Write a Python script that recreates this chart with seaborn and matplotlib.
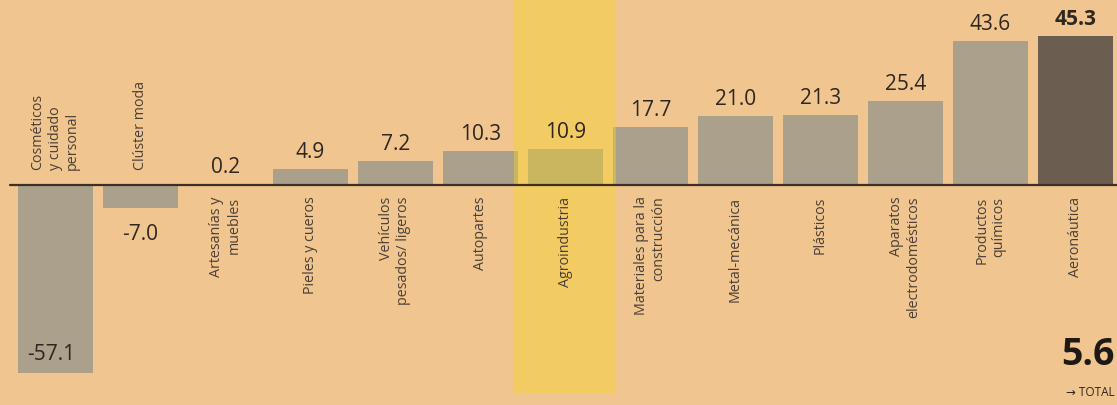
import matplotlib
matplotlib.use("Agg")
import matplotlib.pyplot as plt
import seaborn as sns
import pandas as pd

# === datos ===
categorias = [
    "Cosméticos\ny cuidado\npersonal", "Clúster moda", "Artesanías y\nmuebles",
    "Pieles y cueros", "Vehículos\npesados/ ligeros", "Autopartes", "Agroindustria",
    "Materiales para la\nconstrucción", "Metal-mecánica", "Plásticos",
    "Aparatos\nelectrodomésticos", "Productos\nquímicos", "Aeronáutica",
]
valores = [-57.1, -7.0, 0.2, 4.9, 7.2, 10.3, 10.9, 17.7, 21.0, 21.3, 25.4, 43.6, 45.3]
etiquetas = ["-57.1", "-7.0", "0.2", "4.9", "7.2", "10.3", "10.9", "17.7",
             "21.0", "21.3", "25.4", "43.6", "45.3"]
total = "5.6"

fondo = "#f0c58f"
gris = "#aba08b"
oscuro = "#6b5d4f"
texto = "#2e2620"

df = pd.DataFrame({"cat": categorias, "val": valores})
colores = [gris] * (len(valores) - 1) + [oscuro]

sns.set_theme(style="white")
plt.rcParams["font.family"] = ["Open Sans", "DejaVu Sans"]

fig = plt.figure(figsize=(11.17, 4.05), dpi=100, facecolor=fondo)
ax = fig.add_axes([0, 0, 1, 1], facecolor=fondo)

sns.barplot(data=df, x="cat", y="val", hue="cat", palette=colores, legend=False,
            width=0.88, saturation=1, linewidth=0, ax=ax, zorder=2)

ax.set_xlim(-0.65, 12.49)
ax.set_ylim(-66.7, 56.1)
ax.axis("off")

# linea de cero
ax.plot([-0.53, 12.49], [0, 0], color="#3a3028", lw=1.6, zorder=4)

# marca amarilla sobre Agroindustria
ax.fill_between([5.4, 6.6], [-63, -63], [56.1, 56.1], color="#f5d524",
                alpha=0.42, lw=0, zorder=3)

for i, (c, v, e) in enumerate(zip(categorias, valores, etiquetas)):
    if v < 0:
        ax.text(i, 4.5, c, rotation=90, ha="center", va="bottom",
                multialignment="left", fontsize=10.3, color="#4a3f36", zorder=5)
        if v < -30:
            ax.text(i - 0.05, v + 2.4, e, ha="center", va="bottom",
                    fontsize=15, color=texto, zorder=5)
        else:
            ax.text(i, v - 4.8, e, ha="center", va="top",
                    fontsize=15, color=texto, zorder=5)
    else:
        ax.text(i, -3.5, c, rotation=90, ha="center", va="top",
                multialignment="right", fontsize=10.3, color="#4a3f36", zorder=5)
        peso = "bold" if i == len(valores) - 1 else "normal"
        ax.text(i, v + 1.8, e, ha="center", va="bottom", fontsize=15,
                fontweight=peso, color=texto, zorder=5)

# total
ax.text(0.998, 0.123, total, transform=ax.transAxes, ha="right", va="center",
        fontsize=27, fontweight="bold", color="#1e1915")
ax.text(0.998, 0.03, "→ TOTAL", transform=ax.transAxes, ha="right", va="center",
        fontsize=8.5, color=texto)

fig.savefig("out.png", dpi=100, facecolor=fondo)
